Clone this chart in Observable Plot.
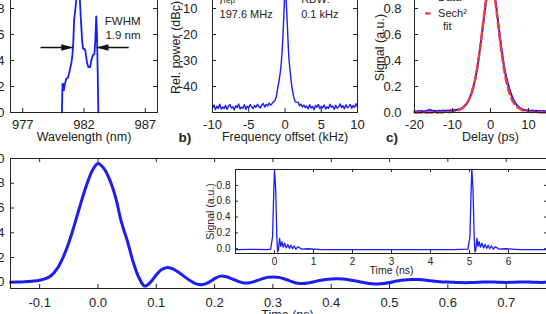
<!DOCTYPE html>
<html>
<head>
<meta charset="utf-8">
<script src="https://cdn.jsdelivr.net/npm/d3@7"></script>
<script src="https://cdn.jsdelivr.net/npm/@observablehq/plot@0.6"></script>
<style>
  html, body { margin: 0; padding: 0; background: #fff; }
  #fig { position: relative; width: 546px; height: 314px; overflow: hidden; background: #fff; }
</style>
</head>
<body>
<div id="fig"></div>
<script>
// ---------- a) optical spectrum ----------
const wavelengthNm = [980.2, 980.24, 980.3, 980.36, 980.42, 980.55, 980.7, 980.85, 980.97, 981.05,
  981.12, 981.2, 981.3, 981.42, 981.52, 981.62, 981.72, 981.85, 981.93, 982.05, 982.12, 982.25,
  982.35, 982.5, 982.6, 982.72, 982.85, 982.92, 983.0, 983.06, 983.12, 983.17];
const spectrumLevel = [0, 0.22, 0.22, 0.17, 0.21, 0.26, 0.27, 0.33, 0.38, 0.44,
  0.53, 0.72, 0.8, 0.92, 1.0, 0.95, 0.76, 0.55, 0.49, 0.49, 0.47, 0.38,
  0.35, 0.35, 0.4, 0.44, 0.45, 0.55, 0.74, 0.6, 0.3, 0];
const fwhmEdgesNm = [981.12, 983.02];
const fwhmArrowTailsNm = [978.45, 985.65];
const fwhmLevel = 0.5;

// ---------- b) RF spectrum around the repetition rate ----------
const noiseLeftStartKHz = -10, noiseRightStartKHz = 1.6, noiseStepKHz = 0.2;
const noiseLeftDbc = [-48.2, -47.1, -48.9, -47.6, -48.4, -46.8, -48.7, -47.9, -48.5, -47.2,
  -48.8, -47.5, -46.9, -48.3, -47.8, -49.0, -47.4, -48.1, -46.7, -48.6,
  -47.9, -48.4, -47.0, -48.8, -47.6, -48.2, -46.9, -47.8, -48.5, -47.3,
  -48.0, -46.8, -47.7, -48.3, -47.1, -46.5, -47.9, -46.9, -47.5, -46.4,
  -47.2, -46.6, -45.9];
const carrierOffsetKHz = [-1.4, -1.2, -1.0, -0.8, -0.6, -0.5, -0.4, -0.3, -0.2, -0.1, 0, 0.05,
  0.15, 0.25, 0.35, 0.45, 0.55, 0.7, 0.85, 1.0, 1.2, 1.4];
const carrierDbc = [-45.5, -44.0, -40.5, -37.5, -33.5, -30.5, -26.5, -21.5, -15.5, -8.5, -1.0, 0,
  -6, -12, -18, -24.5, -29.5, -34, -38, -41, -44, -45.8];
const noiseRightDbc = [-46.0, -46.1, -47.4, -46.8, -47.9, -47.2, -48.1, -47.5, -48.6,
  -47.0, -48.3, -47.7, -48.9, -47.3, -48.0, -46.9, -48.5, -47.6, -48.2,
  -47.1, -48.7, -47.8, -48.4, -46.8, -48.0, -47.5, -48.8, -47.2, -48.3,
  -47.9, -46.7, -48.1, -47.4, -48.6, -47.0, -48.2, -47.7, -46.9, -48.4,
  -47.3, -48.0, -46.6, -47.8];

// ---------- c) autocorrelation ----------
const acStartPs = -20, acStepPs = 0.5;
const acSignal = [0.010, 0.008, 0.012, 0.009, 0.011, 0.007, 0.012, 0.016, 0.022, 0.015,
  0.011, 0.013, 0.010, 0.014, 0.012, 0.015, 0.011, 0.016, 0.014, 0.018,
  0.016, 0.020, 0.019, 0.024, 0.027, 0.034, 0.045, 0.060, 0.082, 0.11,
  0.15, 0.20, 0.26, 0.34, 0.44, 0.55, 0.66, 0.78, 0.89, 0.97,
  1.0, 0.98, 0.92, 0.82, 0.70, 0.58, 0.47, 0.37, 0.29, 0.23,
  0.18, 0.135, 0.10, 0.075, 0.055, 0.040, 0.030, 0.024, 0.020, 0.018,
  0.015, 0.014, 0.016, 0.012, 0.013, 0.011, 0.012, 0.010, 0.012, 0.009,
  0.011, 0.010, 0.012, 0.009, 0.011, 0.010, 0.008, 0.010, 0.009, 0.011, 0.010];
const fitDelayPs = [-20, -15, -12, -10, -9, -8, -7, -6, -5.5, -5, -4.5, -4, -3.5, -3, -2.5, -2, -1.5, -1, -0.5,
  0, 0.5, 1, 1.5, 2, 2.5, 3, 3.5, 4, 4.5, 5, 5.5, 6, 7, 8, 9, 10, 12, 15, 20];
const fitSignal = [0, 0, 0.002, 0.006, 0.012, 0.023, 0.043, 0.08, 0.108, 0.147, 0.197, 0.261, 0.342, 0.441, 0.554, 0.677, 0.798, 0.903, 0.974,
  1.0, 0.974, 0.903, 0.798, 0.677, 0.554, 0.441, 0.342, 0.261, 0.197, 0.147, 0.108, 0.08, 0.043, 0.023, 0.012, 0.006, 0.002, 0, 0];

// ---------- d) sampled pulse and pulse train ----------
const pulseStartNs = -0.15, pulseStepNs = 0.01;
const pulseSignal = [
  0.0, 0.002, 0.003, 0.006, 0.01, 0.017, 0.03, 0.055, 0.11, 0.2,
  0.32, 0.47, 0.63, 0.78, 0.9, 0.96, 0.92, 0.83, 0.69, 0.49,
  0.34, 0.17, 0.04, -0.03, 0.0, 0.06, 0.105, 0.12, 0.105, 0.075,
  0.04, 0.008, -0.015, -0.018, 0.0, 0.03, 0.05, 0.045, 0.028, 0.008,
  -0.005, -0.004, 0.01, 0.026, 0.04, 0.043, 0.04, 0.027, 0.01, -0.005,
  -0.01, -0.006, 0.004, 0.014, 0.022, 0.027, 0.028, 0.026, 0.02, 0.012,
  0.003, -0.006, -0.012, -0.014, -0.01, -0.002, 0.008, 0.016, 0.021, 0.023,
  0.022, 0.018, 0.012, 0.007, 0.003, 0.002, 0.0, -0.002, -0.003, -0.002,
  0.0, 0.002, 0.003, 0.002, 0.0, -0.001, 0.0, 0.002, 0.003, 0.002,
  0.0, -0.001, 0.0, 0.001, 0.0, 0.0];
const trainTimeNs = [-1, -0.6, -0.2, -0.1, -0.05, -0.02, 0, 0.03, 0.06, 0.08, 0.1, 0.13, 0.16, 0.19, 0.22,
  0.26, 0.3, 0.34, 0.38, 0.42, 0.46, 0.5, 0.55, 0.6, 0.7, 0.85, 1.2, 2, 3, 4, 4.6,
  4.96, 5.01, 5.04, 5.06, 5.09, 5.12, 5.14, 5.16, 5.19, 5.22, 5.25, 5.28, 5.32, 5.36,
  5.4, 5.44, 5.48, 5.52, 5.56, 5.61, 5.66, 5.76, 5.91, 6.3, 7];
const trainSignal = [-0.01, -0.008, -0.01, -0.005, 0.15, 0.7, 1.0, 0.75, 0.15, -0.04, -0.02, 0.13, 0.03, 0.09, 0.02,
  0.07, 0.01, 0.055, 0.005, 0.045, 0.0, 0.035, -0.005, 0.025, -0.005, 0.0, -0.01, -0.012, -0.01, -0.012, -0.01,
  -0.005, 0.15, 0.7, 1.0, 0.75, 0.15, -0.04, -0.02, 0.13, 0.03, 0.09, 0.02, 0.07, 0.01,
  0.055, 0.005, 0.045, 0.0, 0.035, -0.005, 0.025, -0.005, 0.0, -0.01, -0.01];

// ---------- drawing ----------
const FONT = '"Liberation Sans", Arial, Helvetica, sans-serif';
const INK = "#222";
const BLUE = "#1c1cf5";
const RED = "#f03c3c";
const fig = document.getElementById("fig");

const fmt1 = d => d.toFixed(1);
const fmtInt = d => String(d);

// boxed panel with inward ticks on all four sides; the frame is given in page pixels
function boxedPanel(o) {
  const {left, right, top, bottom, x, y, xTicks, yTicks, xFormat, yFormat,
    tickLen = 4, fontSize = 13, xPad = 7, yPad = 6, marks = [], frameFill = null} = o;
  const mL = 60, mR = 20, mT = 40, mB = 50;
  const iw = right - left, ih = bottom - top;
  const svg = Plot.plot({
    width: mL + iw + mR, height: mT + ih + mB,
    marginLeft: mL, marginRight: mR, marginTop: mT, marginBottom: mB,
    x: {domain: x, axis: null},
    y: {domain: y, axis: null},
    style: {fontFamily: FONT, fontSize: fontSize + "px", color: INK, background: "transparent",
      maxWidth: "none", overflow: "visible"},
    marks: [
      frameFill ? Plot.frame({fill: frameFill, stroke: "none"}) : null,
      ...marks,
      Plot.tickX(xTicks, {x: d => d, insetTop: ih - tickLen, stroke: INK}),
      Plot.tickX(xTicks, {x: d => d, insetBottom: ih - tickLen, stroke: INK}),
      Plot.tickY(yTicks, {y: d => d, insetRight: iw - tickLen, stroke: INK}),
      Plot.tickY(yTicks, {y: d => d, insetLeft: iw - tickLen, stroke: INK}),
      Plot.axisX({ticks: xTicks, tickSize: 0, tickPadding: xPad, tickFormat: xFormat, label: null, fontSize}),
      Plot.axisY({ticks: yTicks, tickSize: 0, tickPadding: yPad, tickFormat: yFormat, label: null, fontSize}),
      Plot.frame({stroke: INK, strokeWidth: 1})
    ]
  });
  svg.style.position = "absolute";
  svg.style.left = (left - mL) + "px";
  svg.style.top = (top - mT) + "px";
  fig.append(svg);
}

const xLabel = (t, dy, size = 12.5) => Plot.text([t], {frameAnchor: "bottom", dy, lineAnchor: "bottom", fontSize: size, fill: INK});
const yLabel = (t, dx, size = 12.5) => Plot.text([t], {frameAnchor: "left", dx, rotate: -90, textAnchor: "middle", lineAnchor: "middle", fontSize: size, fill: INK});
const panelTag = (t, dx) => Plot.text([t], {frameAnchor: "bottom-left", dx, dy: 29, lineAnchor: "bottom", textAnchor: "start", fontSize: 13.5, fontWeight: "bold", fill: INK});

// filled arrowheads, tip at the data point
const headRight = {draw(c) { c.moveTo(0, 0); c.lineTo(-12, -3.2); c.lineTo(-12, 3.2); c.closePath(); }};
const headLeft = {draw(c) { c.moveTo(0, 0); c.lineTo(12, -3.2); c.lineTo(12, 3.2); c.closePath(); }};

// a)
const spectrum = wavelengthNm.map((nm, i) => ({nm, level: spectrumLevel[i]}));
const fwhm = fwhmEdgesNm.map((edge, i) => ({edge, tail: fwhmArrowTailsNm[i], level: fwhmLevel}));
boxedPanel({
  left: 10, right: 157, top: -18, bottom: 112,
  x: [976, 988], y: [0, 1],
  xTicks: [977, 982, 987], yTicks: [0, 0.2, 0.4, 0.6, 0.8, 1.0],
  xFormat: fmtInt, yFormat: fmt1, yPad: 6,
  marks: [
    Plot.line(spectrum, {x: "nm", y: "level", stroke: BLUE, strokeWidth: 1.8}),
    Plot.link(fwhm, {x1: "tail", x2: "edge", y1: "level", y2: "level", stroke: "#111", strokeWidth: 1.3}),
    Plot.dot(fwhm.slice(0, 1), {x: "edge", y: "level", symbol: headRight, fill: "#111", stroke: "none"}),
    Plot.dot(fwhm.slice(1), {x: "edge", y: "level", symbol: headLeft, fill: "#111", stroke: "none"}),
    Plot.text(["FWHM"], {x: [983.7], y: [0.67], textAnchor: "start", lineAnchor: "bottom", fontSize: 11.5, fill: INK}),
    Plot.text([`${(fwhmEdgesNm[1] - fwhmEdgesNm[0]).toFixed(1)} nm`], {x: [983.75], y: [0.567], textAnchor: "start", lineAnchor: "bottom", fontSize: 11.5, fill: INK}),
    xLabel("Wavelength (nm)", 28.7)
  ]
});

// b)
const rf = [
  ...noiseLeftDbc.map((dbc, i) => ({f: noiseLeftStartKHz + i * noiseStepKHz, dbc})),
  ...carrierOffsetKHz.map((f, i) => ({f, dbc: carrierDbc[i]})),
  ...noiseRightDbc.map((dbc, i) => ({f: noiseRightStartKHz + i * noiseStepKHz, dbc}))
];
boxedPanel({
  left: 212, right: 357, top: -18, bottom: 112,
  x: [-10, 10], y: [-50, 0],
  xTicks: [-10, -5, 0, 5, 10], yTicks: [0, -10, -20, -30, -40],
  xFormat: fmtInt, yFormat: fmtInt, yPad: 15,
  marks: [
    Plot.line(rf, {x: "f", y: "dbc", stroke: BLUE, strokeWidth: 1.4}),
    Plot.text(["f"], {x: [-9.0], y: [-8.4], textAnchor: "start", lineAnchor: "bottom", fontSize: 11.5, fontStyle: "italic", fill: INK}),
    Plot.text(["rep"], {x: [-8.5], y: [-7.9], textAnchor: "start", lineAnchor: "bottom", fontSize: 8, fill: INK}),
    Plot.text(["197.6 MHz"], {x: [-9.03], y: [-13.5], textAnchor: "start", lineAnchor: "bottom", fontSize: 11, fill: INK}),
    Plot.text(["RBW:"], {x: [2.23], y: [-7.9], textAnchor: "start", lineAnchor: "bottom", fontSize: 11, fill: INK}),
    Plot.text(["0.1 kHz"], {x: [2.23], y: [-13.5], textAnchor: "start", lineAnchor: "bottom", fontSize: 11, fill: INK}),
    xLabel("Frequency offset (kHz)", 28.7),
    yLabel("Rel. power (dBc)", -37),
    panelTag("b)", -34)
  ]
});

// c)
const ac = acSignal.map((s, i) => ({t: acStartPs + i * acStepPs, s}));
const fit = fitDelayPs.map((t, i) => ({t, s: fitSignal[i]}));
boxedPanel({
  left: 413.5, right: 565.5, top: -18, bottom: 112,
  x: [-20, 20], y: [0, 1],
  xTicks: [-20, -10, 0, 10, 20], yTicks: [0, 0.2, 0.4, 0.6, 0.8, 1.0],
  xFormat: fmtInt, yFormat: fmt1, yPad: 13,
  marks: [
    Plot.line(ac, {x: "t", y: "s", stroke: BLUE, strokeWidth: 2}),
    Plot.line(fit, {x: "t", y: "s", stroke: RED, strokeWidth: 2.4, strokeDasharray: "7 4", curve: "catmull-rom"}),
    Plot.link([0], {x1: [-17.2], x2: [-15.8], y1: [0.885], y2: [0.885], stroke: BLUE, strokeWidth: 2}),
    Plot.link([0], {x1: [-17.2], x2: [-15.8], y1: [0.762], y2: [0.762], stroke: RED, strokeWidth: 2.4}),
    Plot.text(["Data"], {x: [-13.8], y: [0.854], textAnchor: "start", lineAnchor: "bottom", fontSize: 11, fill: INK}),
    Plot.text(["Sech²"], {x: [-13.8], y: [0.738], textAnchor: "start", lineAnchor: "bottom", fontSize: 11, fill: INK}),
    Plot.text(["fit"], {x: [-11.4], y: [0.636], textAnchor: "middle", lineAnchor: "bottom", fontSize: 11, fill: INK}),
    xLabel("Delay (ps)", 28.7),
    yLabel("Signal (a.u.)", -34.5),
    panelTag("c)", -28.5)
  ]
});

// d) main trace
const pulse = pulseSignal.map((s, i) => ({t: pulseStartNs + i * pulseStepNs, s}));
boxedPanel({
  left: 10, right: 564, top: 158, bottom: 288,
  x: [-0.15, 0.8], y: [-0.05, 1.0],
  xTicks: [-0.1, 0, 0.1, 0.2, 0.3, 0.4, 0.5, 0.6, 0.7, 0.8], yTicks: [0, 0.2, 0.4, 0.6, 0.8, 1.0],
  xFormat: fmt1, yFormat: fmt1, xPad: 9, yPad: 6,
  marks: [
    Plot.line(pulse, {x: "t", y: "s", stroke: BLUE, strokeWidth: 3, curve: "catmull-rom"}),
    xLabel("Time (ns)", 30)
  ]
});

// d) inset: pulse train
const train = trainTimeNs.map((t, i) => ({t, s: trainSignal[i]}));
boxedPanel({
  left: 235, right: 547, top: 169, bottom: 253,
  x: [-1, 7], y: [-0.06, 1.0],
  xTicks: [0, 1, 2, 3, 4, 5, 6], yTicks: [0, 0.2, 0.4, 0.6, 0.8],
  xFormat: fmtInt, yFormat: fmt1, tickLen: 3, fontSize: 10, xPad: 4, yPad: 5,
  frameFill: "white",
  marks: [
    Plot.line(train, {x: "t", y: "s", stroke: BLUE, strokeWidth: 1.3}),
    Plot.text(["Time (ns)"], {frameAnchor: "bottom", dy: 20, fontSize: 10.5, fill: INK}),
    yLabel("Signal (a.u.)", -25, 10.5)
  ]
});
</script>
</body>
</html>
